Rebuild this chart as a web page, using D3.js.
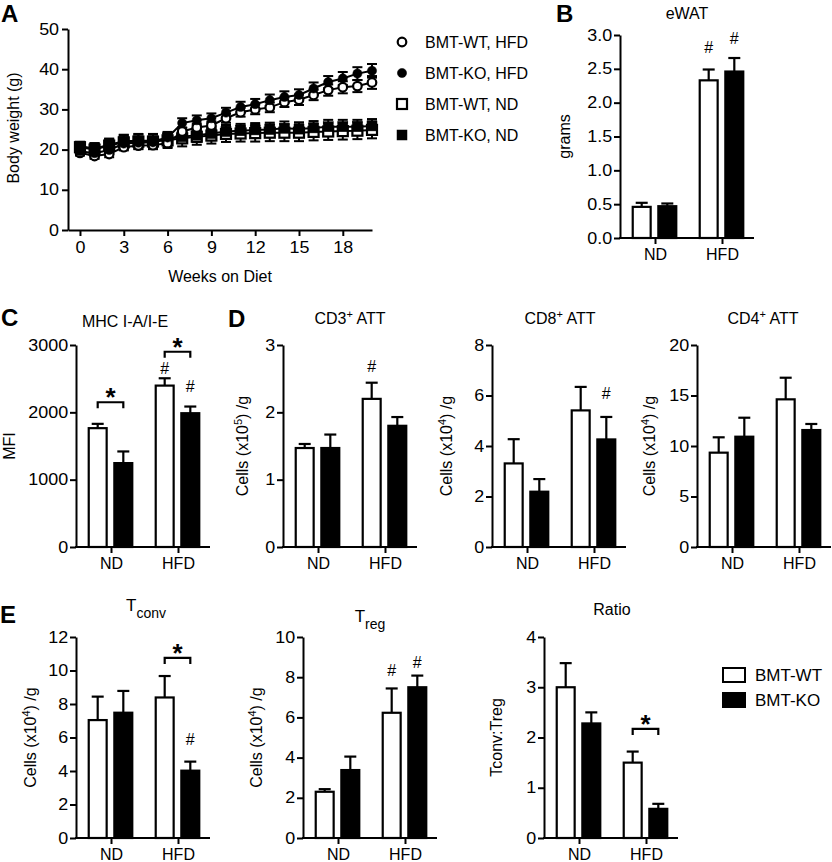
<!DOCTYPE html>
<html><head><meta charset="utf-8">
<script src="https://cdn.jsdelivr.net/npm/d3@7"></script>
<style>
body{margin:0;background:#fff}
svg text{font-family:"Liberation Sans",Arial,Helvetica,sans-serif;fill:#000}
</style></head><body>
<svg id="fig" width="832" height="862" xmlns="http://www.w3.org/2000/svg"></svg>
<script>
// ================= DATA =================
// Panel A: body weight (g) by week on diet
const weeks = [0,1,2,3,4,5,6,7,8,9,10,11,12,13,14,15,16,17,18,19,20];
const weekTicks = [0,3,6,9,12,15,18];
const bwTicks = [0,10,20,30,40,50];
const wtHFD    = [19.2,18.4,18.9,20.6,21.0,21.1,21.6,24.5,25.5,26.0,27.8,29.3,30.0,30.5,31.8,32.4,33.6,34.8,35.5,35.8,36.7];
const wtHFDErr = [0.7,0.7,0.8,0.8,0.8,0.8,0.9,1.0,1.0,1.0,1.1,1.1,1.2,1.2,1.2,1.3,1.3,1.4,1.5,1.5,1.6];
const koHFD    = [19.6,19.1,19.9,21.5,21.7,21.8,23.0,26.6,27.3,27.8,29.2,30.6,31.3,32.3,33.1,33.6,35.2,36.8,37.7,38.9,39.6];
const koHFDErr = [0.9,1.0,1.0,1.0,1.1,1.1,1.1,1.2,1.2,1.2,1.2,1.3,1.3,1.4,1.4,1.4,1.5,1.5,1.6,1.6,1.7];
const wtND     = [20.6,20.0,21.0,21.8,22.0,22.0,22.3,22.8,23.2,23.5,23.9,24.0,24.1,24.2,24.2,24.2,24.4,24.5,24.6,24.7,24.9];
const wtNDErr  = [1.0,1.6,1.7,1.8,1.9,1.9,1.9,2.0,2.0,2.0,2.0,2.0,2.1,2.1,2.1,2.1,2.1,2.1,2.1,2.1,2.1];
const koND     = [20.9,20.2,21.2,22.1,22.2,22.2,22.8,23.2,23.6,24.0,24.5,24.7,24.9,25.0,25.3,25.1,25.4,25.7,25.7,25.7,25.9];
const koNDErr  = [0.8,1.4,1.5,1.6,1.6,1.6,1.6,1.6,1.7,1.7,1.7,1.7,1.7,1.7,1.7,1.7,1.7,1.7,1.7,1.7,1.7];
const lineSeries = ["BMT-WT, HFD","BMT-KO, HFD","BMT-WT, ND","BMT-KO, ND"];

// Bar panels
const groups = ["ND","HFD"];
const seriesNames = ["BMT-WT","BMT-KO"];

const ewatTicks = [0,0.5,1.0,1.5,2.0,2.5,3.0];
const ewatWT = [0.46,2.33], ewatWTErr = [0.06,0.16];
const ewatKO = [0.47,2.46], ewatKOErr = [0.04,0.20];
const ewatHash = [["HFD","BMT-WT"],["HFD","BMT-KO"]];
const ewatStar = [];

const mhcTicks = [0,1000,2000,3000];
const mhcWT = [1765,2397], mhcWTErr = [64,109];
const mhcKO = [1246,1987], mhcKOErr = [173,99];
const mhcHash = [["HFD","BMT-WT"],["HFD","BMT-KO"]];
const mhcStar = [["ND",2150],["HFD",2900]];

const cd3Ticks = [0,1,2,3];
const cd3WT = [1.47,2.20], cd3WTErr = [0.06,0.24];
const cd3KO = [1.47,1.80], cd3KOErr = [0.20,0.13];
const cd3Hash = [["HFD","BMT-WT"]];
const cd3Star = [];

const cd8Ticks = [0,2,4,6,8];
const cd8WT = [3.31,5.41], cd8WTErr = [0.96,0.93];
const cd8KO = [2.19,4.26], cd8KOErr = [0.50,0.89];
const cd8Hash = [["HFD","BMT-KO"]];
const cd8Star = [];

const cd4Ticks = [0,5,10,15,20];
const cd4WT = [9.34,14.62], cd4WTErr = [1.52,2.14];
const cd4KO = [10.92,11.58], cd4KOErr = [1.88,0.60];
const cd4Hash = [];
const cd4Star = [];

const tconvTicks = [0,2,4,6,8,10,12];
const tconvWT = [7.04,8.39], tconvWTErr = [1.40,1.28];
const tconvKO = [7.48,4.02], tconvKOErr = [1.30,0.54];
const tconvHash = [["HFD","BMT-KO"]];
const tconvStar = [["HFD",10.75]];

const tregTicks = [0,2,4,6,8,10];
const tregWT = [2.30,6.23], tregWTErr = [0.13,1.21];
const tregKO = [3.38,7.50], tregKOErr = [0.67,0.58];
const tregHash = [["HFD","BMT-WT"],["HFD","BMT-KO"]];
const tregStar = [];

const ratioTicks = [0,1,2,3,4];
const ratioWT = [3.00,1.50], ratioWTErr = [0.48,0.22];
const ratioKO = [2.28,0.58], ratioKOErr = [0.22,0.10];
const ratioHash = [];
const ratioStar = [["HFD",2.17]];

// ================= DRAWING =================
const svg = d3.select("#fig");
const FONT = 16;

function styleAxis(g){
  g.select(".domain").attr("stroke","#000").attr("stroke-width",2);
  g.selectAll(".tick line").attr("stroke","#000").attr("stroke-width",2);
  g.selectAll(".tick text").attr("font-size",FONT).attr("fill","#000")
    .attr("font-family","'Liberation Sans',Arial,Helvetica,sans-serif")
    .attr("transform","scale(1.12,1)");
}
function addRich(textSel, segs){
  segs.forEach(s=>{
    const t = textSel.append("tspan").text(s.t);
    if(s.sup){ t.attr("font-size",11).attr("dy",-6); }
    else if(s.sub){ t.attr("font-size",14).attr("dy",7); }
    else if(s.after){ t.attr("dy",s.after); }
  });
}
function panelLetter(t,x,y){
  svg.append("text").attr("x",x).attr("y",y).attr("font-size",24).attr("font-weight","bold").text(t);
}

// ---------- Panel A ----------
(function(){
  const xA = d3.scaleLinear().domain([-0.82,20]).range([68,372]);
  const yA = d3.scaleLinear().domain([0,50]).range([230,29]);
  const g = svg.append("g");
  g.append("g").attr("transform","translate(68,0)")
    .call(d3.axisLeft(yA).tickValues(bwTicks).tickSize(6).tickSizeOuter(0).tickPadding(2)).call(styleAxis);
  g.append("g").attr("transform","translate(0,230)")
    .call(d3.axisBottom(xA).tickValues(weekTicks).tickSize(6).tickSizeOuter(0).tickPadding(6)).call(styleAxis);
  g.append("text").attr("x",220).attr("y",282).attr("text-anchor","middle").attr("font-size",FONT).text("Weeks on Diet");
  g.append("text").attr("transform","translate(19,128) rotate(-90)").attr("text-anchor","middle").attr("font-size",FONT).text("Body weight (g)");

  const sets = [
    {v:wtND, e:wtNDErr, shape:"square", fill:"#fff"},
    {v:koND, e:koNDErr, shape:"square", fill:"#000"},
    {v:wtHFD, e:wtHFDErr, shape:"circle", fill:"#fff"},
    {v:koHFD, e:koHFDErr, shape:"circle", fill:"#000"}
  ];
  const line = d3.line().x((d,i)=>xA(weeks[i])).y(d=>yA(d));
  sets.forEach(s=>{
    const eg = g.append("g").attr("stroke","#000").attr("stroke-width",2);
    s.v.forEach((v,i)=>{
      const cx = xA(weeks[i]);
      eg.append("line").attr("x1",cx).attr("x2",cx).attr("y1",yA(v-s.e[i])).attr("y2",yA(v+s.e[i]));
      eg.append("line").attr("x1",cx-5).attr("x2",cx+5).attr("y1",yA(v-s.e[i])).attr("y2",yA(v-s.e[i]));
      eg.append("line").attr("x1",cx-5).attr("x2",cx+5).attr("y1",yA(v+s.e[i])).attr("y2",yA(v+s.e[i]));
    });
    g.append("path").attr("d",line(s.v)).attr("fill","none").attr("stroke","#000").attr("stroke-width",2);
  });
  function marker(sel, shape, fill, cx, cy){
    if(shape==="circle"){
      sel.append("circle").attr("cx",cx).attr("cy",cy).attr("r",fill==="#fff"?4.3:4.6)
        .attr("fill",fill).attr("stroke","#000").attr("stroke-width",fill==="#fff"?2.2:0.5);
    } else {
      sel.append("rect").attr("x",cx-5).attr("y",cy-5).attr("width",10).attr("height",10)
        .attr("fill",fill).attr("stroke","#000").attr("stroke-width",fill==="#fff"?2.2:0.5);
    }
  }
  sets.forEach(s=>{ s.v.forEach((v,i)=>marker(g,s.shape,s.fill,xA(weeks[i]),yA(v))); });

  // legend
  const legShapes = [["circle","#fff"],["circle","#000"],["square","#fff"],["square","#000"]];
  lineSeries.forEach((name,i)=>{
    const ly = 42 + i*31;
    marker(g, legShapes[i][0], legShapes[i][1], 402, ly);
    g.append("text").attr("x",425).attr("y",ly).attr("dy","0.36em").attr("font-size",FONT).text(name);
  });
  panelLetter("A",1,22);
})();

// ---------- Bar panels ----------
function barPanel(c){
  const g = svg.append("g");
  const x = d3.scaleBand().domain(groups).range([c.X0, c.X0+136]).paddingInner(0.35).paddingOuter(0.19);
  const xs = d3.scaleBand().domain(seriesNames).range([0, x.bandwidth()]).paddingInner(0.3);
  const y = d3.scaleLinear().domain([0, c.ticks[c.ticks.length-1]]).range([c.yBottom, c.yTop]);
  const vals = {"BMT-WT":[c.wt,c.wtErr],"BMT-KO":[c.ko,c.koErr]};
  const bx = (gr,s)=> x(gr)+xs(s)+xs.bandwidth()/2;

  // bars
  seriesNames.forEach(s=>{
    groups.forEach((gr,i)=>{
      const v = vals[s][0][i], e = vals[s][1][i];
      const cx = bx(gr,s);
      g.append("line").attr("x1",cx).attr("x2",cx).attr("y1",y(v)).attr("y2",y(v+e)).attr("stroke","#000").attr("stroke-width",2.2);
      g.append("line").attr("x1",cx-6).attr("x2",cx+6).attr("y1",y(v+e)).attr("y2",y(v+e)).attr("stroke","#000").attr("stroke-width",2.2);
      g.append("rect").attr("x",x(gr)+xs(s)).attr("y",y(v)).attr("width",xs.bandwidth()).attr("height",c.yBottom-y(v))
        .attr("fill", s==="BMT-WT"?"#fff":"#000").attr("stroke","#000").attr("stroke-width",2.2);
    });
  });
  // y axis
  g.append("g").attr("transform",`translate(${c.X0},0)`)
    .call(d3.axisLeft(y).tickValues(c.ticks).tickFormat(c.fmt||d3.format("d")).tickSize(6).tickSizeOuter(0).tickPadding(1)).call(styleAxis);
  // x axis
  g.append("line").attr("x1",c.X0-1).attr("x2",c.X0+134).attr("y1",c.yBottom).attr("y2",c.yBottom).attr("stroke","#000").attr("stroke-width",2);
  groups.forEach(gr=>{
    const tx = x(gr)+x.bandwidth()/2+1;
    g.append("line").attr("x1",tx).attr("x2",tx).attr("y1",c.yBottom).attr("y2",c.yBottom+6).attr("stroke","#000").attr("stroke-width",2);
    g.append("text").attr("x",tx).attr("y",c.yBottom+22).attr("text-anchor","middle").attr("font-size",FONT).text(gr);
  });
  // hash marks
  c.hash.forEach((h,k)=>{
    const [gr,s] = h;
    const i = groups.indexOf(gr);
    const top = y(vals[s][0][i]+vals[s][1][i]);
    const off = (c.hashOff && c.hashOff[k]!=null) ? c.hashOff[k] : 18;
    g.append("text").attr("x",bx(gr,s)).attr("y",top-off+5.5).attr("text-anchor","middle").attr("font-size",FONT).text("#");
  });
  // star brackets
  c.star.forEach(st=>{
    const [gr,lvl] = st;
    const by = y(lvl);
    const x1 = bx(gr,"BMT-WT"), x2 = bx(gr,"BMT-KO");
    g.append("path").attr("d",`M${x1},${by+6}V${by}H${x2}V${by+6}`).attr("fill","none").attr("stroke","#000").attr("stroke-width",2.2);
    g.append("text").attr("x",(x1+x2)/2).attr("y",by+4).attr("text-anchor","middle").attr("font-size",26).attr("font-weight","bold").text("*");
  });
  // title
  const t = g.append("text").attr("x",c.titleX).attr("y",c.titleY).attr("text-anchor","middle").attr("font-size",c.titleSize||FONT);
  addRich(t, c.title);
  // y label
  const yl = g.append("text").attr("transform",`translate(${c.ylX},${(c.yTop+c.yBottom)/2}) rotate(-90)`)
    .attr("text-anchor","middle").attr("font-size",FONT);
  addRich(yl, c.ylabel);
}

const cellsLab = (p)=>[{t:"Cells (x10"},{t:p,sup:true},{t:") /g",after:6}];

barPanel({X0:620,yTop:35,yBottom:238,ticks:ewatTicks,fmt:d3.format(".1f"),wt:ewatWT,wtErr:ewatWTErr,ko:ewatKO,koErr:ewatKOErr,
  hash:ewatHash,hashOff:[22,20],star:ewatStar,title:[{t:"eWAT"}],titleX:687,titleY:19,ylabel:[{t:"grams"}],ylX:570});
barPanel({X0:76,yTop:345,yBottom:547,ticks:mhcTicks,wt:mhcWT,wtErr:mhcWTErr,ko:mhcKO,koErr:mhcKOErr,
  hash:mhcHash,hashOff:[10,20],star:mhcStar,title:[{t:"MHC I-A/I-E"}],titleX:125,titleY:327,ylabel:[{t:"MFI"}],ylX:15});
barPanel({X0:283,yTop:345,yBottom:547,ticks:cd3Ticks,wt:cd3WT,wtErr:cd3WTErr,ko:cd3KO,koErr:cd3KOErr,
  hash:cd3Hash,hashOff:[16],star:cd3Star,title:[{t:"CD3"},{t:"+",sup:true},{t:" ATT",after:6}],titleX:350,titleY:324,ylabel:cellsLab("5"),ylX:248});
barPanel({X0:492,yTop:345,yBottom:547,ticks:cd8Ticks,wt:cd8WT,wtErr:cd8WTErr,ko:cd8KO,koErr:cd8KOErr,
  hash:cd8Hash,hashOff:[23],star:cd8Star,title:[{t:"CD8"},{t:"+",sup:true},{t:" ATT",after:6}],titleX:560,titleY:324,ylabel:cellsLab("4"),ylX:452});
barPanel({X0:697,yTop:345,yBottom:547,ticks:cd4Ticks,wt:cd4WT,wtErr:cd4WTErr,ko:cd4KO,koErr:cd4KOErr,
  hash:cd4Hash,star:cd4Star,title:[{t:"CD4"},{t:"+",sup:true},{t:" ATT",after:6}],titleX:763,titleY:324,ylabel:cellsLab("4"),ylX:655});
barPanel({X0:76,yTop:637,yBottom:838,ticks:tconvTicks,wt:tconvWT,wtErr:tconvWTErr,ko:tconvKO,koErr:tconvKOErr,
  hash:tconvHash,hashOff:[22],star:tconvStar,title:[{t:"T"},{t:"conv",sub:true}],titleSize:17,titleX:146,titleY:611,ylabel:cellsLab("4"),ylX:36});
barPanel({X0:303,yTop:637,yBottom:838,ticks:tregTicks,wt:tregWT,wtErr:tregWTErr,ko:tregKO,koErr:tregKOErr,
  hash:tregHash,hashOff:[18,13],star:tregStar,title:[{t:"T"},{t:"reg",sub:true}],titleSize:17,titleX:370,titleY:622,ylabel:cellsLab("4"),ylX:262});
barPanel({X0:544,yTop:637,yBottom:838,ticks:ratioTicks,wt:ratioWT,wtErr:ratioWTErr,ko:ratioKO,koErr:ratioKOErr,
  hash:ratioHash,star:ratioStar,title:[{t:"Ratio"}],titleX:612,titleY:615,ylabel:[{t:"Tconv:Treg"}],ylX:502});

panelLetter("B",556,22);
panelLetter("C",1,326);
panelLetter("D",228,327);
panelLetter("E",0,623);

// legend E
seriesNames.forEach((s,i)=>{
  const ly = 675 + i*25;
  svg.append("rect").attr("x",723).attr("y",ly-7).attr("width",22).attr("height",14)
    .attr("fill",s==="BMT-WT"?"#fff":"#000").attr("stroke","#000").attr("stroke-width",2);
  svg.append("text").attr("x",755).attr("y",ly).attr("dy","0.36em").attr("font-size",17).text(s);
});
</script>
</body></html>
